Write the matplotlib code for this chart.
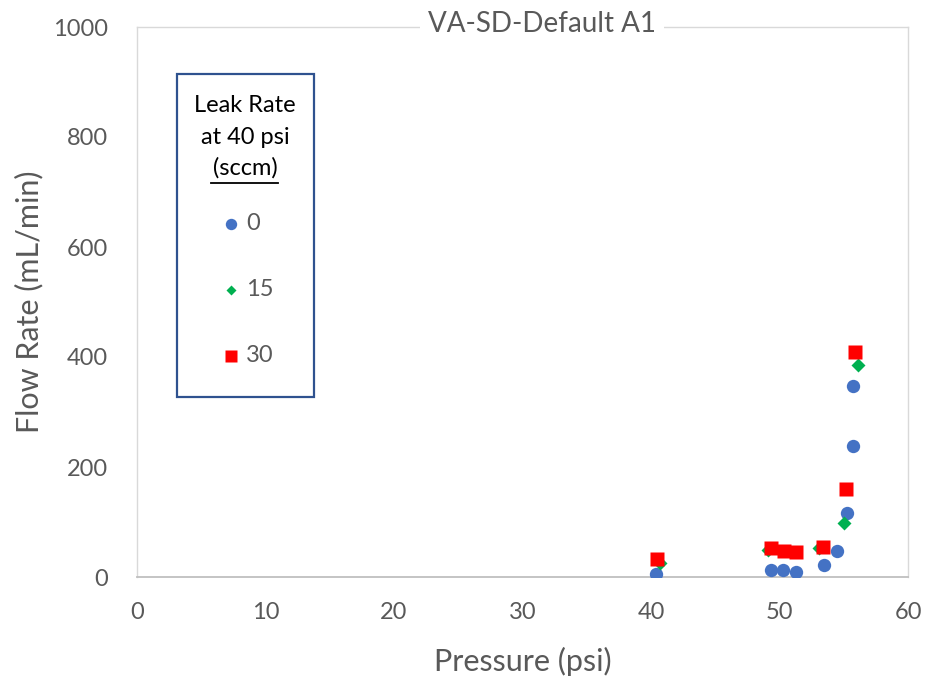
import matplotlib
matplotlib.use("Agg")
import matplotlib.pyplot as plt
from matplotlib.patches import Rectangle
from matplotlib.lines import Line2D

plt.rcParams['font.family'] = ['Lato', 'DejaVu Sans']

# Data: Leak Rate at 40 psi (sccm) series
p_0 = [40.4, 49.3, 50.25, 51.3, 53.5, 54.5, 55.25, 55.7, 55.7]
f_0 = [5, 13, 13, 10, 21, 48, 117, 239, 347]

p_15 = [40.7, 49.1, 53.1, 55.0, 56.1]
f_15 = [25, 50, 53, 99, 385]

p_30 = [40.45, 49.3, 50.35, 51.3, 53.4, 55.2, 55.9]
f_30 = [33, 52, 48, 46, 54, 160, 409]

series_labels = ["0", "15", "30"]
x_ticks = [0, 10, 20, 30, 40, 50, 60]
y_ticks = [0, 200, 400, 600, 800, 1000]

blue, green, red = "#4472C4", "#00B050", "#FF0000"
gray_txt = "#595959"

W, H = 935, 680
fig = plt.figure(figsize=(W / 100, H / 100), dpi=100)
ax = fig.add_axes([137 / W, 1 - 577 / H, (908 - 137) / W, (577 - 27) / H])

ax.plot(p_0, f_0, 'o', color=blue, ms=9.6, mec='none', zorder=3)
ax.plot(p_15, f_15, 'D', color=green, ms=7.0, mec='none', zorder=4)
ax.plot(p_30, f_30, 's', color=red, ms=9.4, mec='none', zorder=5)

ax.set_xlim(0, 60)
ax.set_ylim(0, 1000)
ax.set_xticks(x_ticks)
ax.set_yticks(y_ticks)
ax.tick_params(length=0, labelsize=17, labelcolor=gray_txt)
ax.tick_params(axis='y', pad=21)
ax.tick_params(axis='x', pad=18)
for s in ['top', 'left', 'right']:
    ax.spines[s].set_color('#D9D9D9')
    ax.spines[s].set_linewidth(1.0)
ax.spines['bottom'].set_color('#BFBFBF')
ax.spines['bottom'].set_linewidth(1.3)

ax.set_xlabel("Pressure (psi)", fontsize=22, color=gray_txt, labelpad=17)
ax.set_ylabel("Flow Rate (mL/min)", fontsize=22, color=gray_txt, labelpad=7)

fig.text(542 / W, 1 - 24 / H, "VA-SD-Default A1", ha='center', va='center',
         fontsize=20, color=gray_txt,
         bbox=dict(facecolor='white', edgecolor='none', pad=6))

# Legend box (manual)
def fx(px):
    return px / W

def fy(py):
    return 1 - py / H

fig.add_artist(Rectangle((fx(177), fy(397)), (314 - 177) / W, (397 - 74) / H,
                         transform=fig.transFigure, facecolor='white',
                         edgecolor='#2F528F', linewidth=1.6, zorder=10))
title_lines = ["Leak Rate", "at 40 psi", "(sccm)"]
title_y = [106, 138, 168]
for t, yy in zip(title_lines, title_y):
    fig.text(fx(245), fy(yy), t, ha='center', va='center', fontsize=17,
             color='black', zorder=11)
fig.add_artist(Line2D([fx(211), fx(278)], [fy(183), fy(183)],
                      transform=fig.transFigure, color='black', lw=1.3, zorder=11))

leg_y = [224, 290, 356]
leg_m = [('o', blue, 8.2), ('D', green, 5.6), ('s', red, 8.0)]
for lab, yy, (m, c, ms) in zip(series_labels, leg_y, leg_m):
    fig.add_artist(Line2D([fx(231)], [fy(yy)], marker=m, color=c, ms=ms,
                          mec='none', linestyle='none',
                          transform=fig.transFigure, zorder=11))
    fig.text(fx(246), fy(yy), lab, ha='left', va='center', fontsize=17,
             color=gray_txt, zorder=11)

fig.savefig("out.png", dpi=100, facecolor='white')
